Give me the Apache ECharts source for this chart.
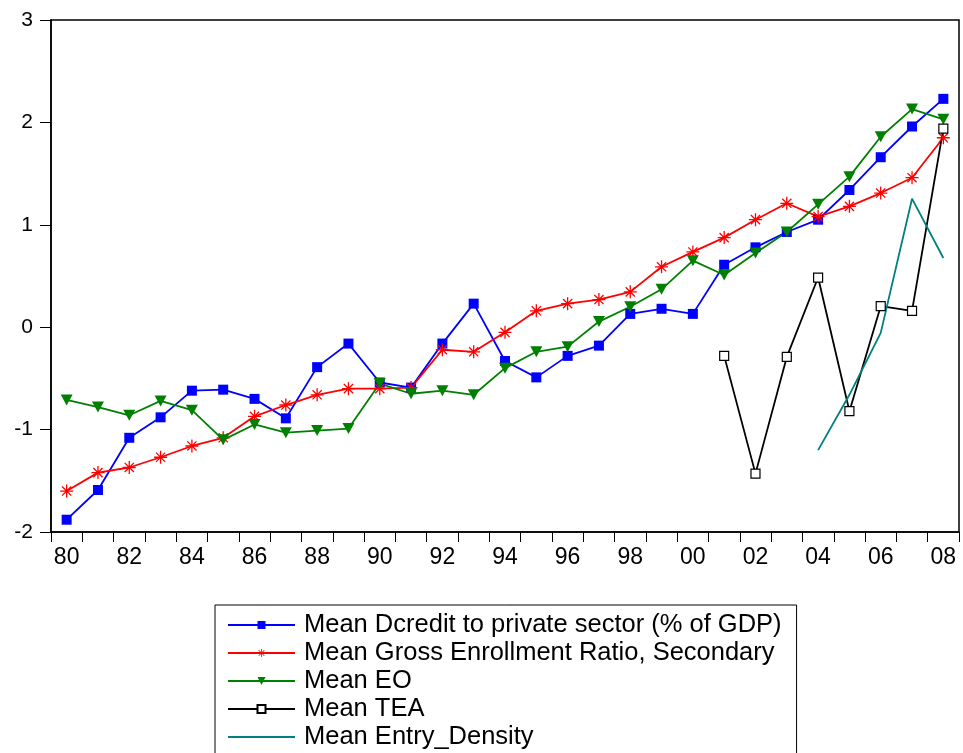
<!DOCTYPE html>
<html><head><meta charset="utf-8">
<script src="https://cdn.jsdelivr.net/npm/echarts@6/dist/echarts.min.js"></script>
<style>html,body{margin:0;padding:0;background:#fff}#c{width:963px;height:753px}</style>
</head><body><div id="c"></div>
<script>
const years = ['80','81','82','83','84','85','86','87','88','89','90','91','92','93','94','95','96','97','98','99','00','01','02','03','04','05','06','07','08'];
const credit = [-1.88,-1.59,-1.08,-0.88,-0.62,-0.61,-0.70,-0.89,-0.39,-0.16,-0.54,-0.59,-0.16,0.23,-0.33,-0.49,-0.28,-0.18,0.13,0.18,0.13,0.61,0.78,0.93,1.05,1.34,1.66,1.96,2.23];
const enroll = [-1.60,-1.42,-1.37,-1.27,-1.16,-1.08,-0.87,-0.76,-0.66,-0.60,-0.60,-0.59,-0.22,-0.24,-0.05,0.16,0.23,0.27,0.345,0.59,0.735,0.875,1.05,1.21,1.08,1.18,1.31,1.46,1.85];
const eo = [-0.71,-0.78,-0.86,-0.72,-0.81,-1.10,-0.95,-1.03,-1.01,-0.99,-0.55,-0.65,-0.62,-0.66,-0.40,-0.24,-0.19,0.055,0.20,0.37,0.65,0.51,0.725,0.93,1.20,1.47,1.86,2.13,2.03];
const tea = [null,null,null,null,null,null,null,null,null,null,null,null,null,null,null,null,null,null,null,null,null,-0.28,-1.43,-0.29,0.485,-0.82,0.205,0.16,1.94];
const entry = [null,null,null,null,null,null,null,null,null,null,null,null,null,null,null,null,null,null,null,null,null,null,null,null,-1.20,-0.66,-0.055,1.255,0.676];
const yTicks = {min:-2, max:3, step:1};

const star = 'path://M-1,-10L1,-10L1,10L-1,10Z M-10,-1L10,-1L10,1L-10,1Z M-6.36,-7.78L7.78,6.36L6.36,7.78L-7.78,-6.36Z M-7.78,6.36L6.36,-7.78L7.78,-6.36L-6.36,7.78Z';
const font = "'Liberation Sans', Arial, sans-serif";
const chart = echarts.init(document.getElementById('c'), null, {renderer:'canvas'});
chart.setOption({
  animation:false,
  backgroundColor:'#fff',
  grid:{left:51, right:4, top:20, bottom:221, show:true, borderColor:'#000', borderWidth:1.5, backgroundColor:'transparent'},
  xAxis:{type:'category', data:years, boundaryGap:true,
    axisLine:{onZero:false, lineStyle:{color:'#000', width:1.5}},
    axisTick:{show:true, interval:0, length:10, lineStyle:{color:'#000'}},
    axisLabel:{interval:1, color:'#000', fontSize:23, fontFamily:font, margin:14}},
  yAxis:{type:'value', min:yTicks.min, max:yTicks.max, interval:yTicks.step,
    axisLine:{show:true, lineStyle:{color:'#000', width:1.5}},
    axisTick:{show:true, length:11, lineStyle:{color:'#000'}},
    splitLine:{show:false},
    axisLabel:{color:'#000', fontSize:21, fontFamily:font, margin:18}},
  legend:{orient:'vertical', left:215, top:605, height:170, padding:[6,15,10,12], itemGap:0,
    itemWidth:67, itemHeight:10, borderColor:'#000', borderWidth:1, backgroundColor:'#fff',
    textStyle:{fontSize:25.5, fontFamily:font, color:'#000', lineHeight:28, padding:[0,0,0,4]},
    data:['Mean Dcredit to private sector (% of GDP)','Mean Gross Enrollment Ratio, Secondary','Mean EO','Mean TEA',
      {name:'Mean Entry_Density', itemStyle:{opacity:0}}]},
  series:[
    {name:'Mean Dcredit to private sector (% of GDP)', type:'line', data:credit, symbol:'rect', symbolSize:10,
      lineStyle:{color:'#0000FF', width:1.8}, itemStyle:{color:'#0000FF'}},
    {name:'Mean Gross Enrollment Ratio, Secondary', type:'line', data:enroll, symbol:star, symbolSize:13,
      lineStyle:{color:'#FF0000', width:1.8}, itemStyle:{color:'#FF0000'}},
    {name:'Mean EO', type:'line', data:eo, symbol:'triangle', symbolRotate:180, symbolSize:[12,11],
      lineStyle:{color:'#008000', width:1.8}, itemStyle:{color:'#008000'}},
    {name:'Mean TEA', type:'line', data:tea, symbol:'rect', symbolSize:9,
      lineStyle:{color:'#000', width:1.8}, itemStyle:{color:'#fff', borderColor:'#000', borderWidth:1.2}},
    {name:'Mean Entry_Density', type:'line', data:entry, symbol:'none',
      lineStyle:{color:'#008080', width:1.8}, itemStyle:{color:'#008080'}}
  ]
});
</script></body></html>
